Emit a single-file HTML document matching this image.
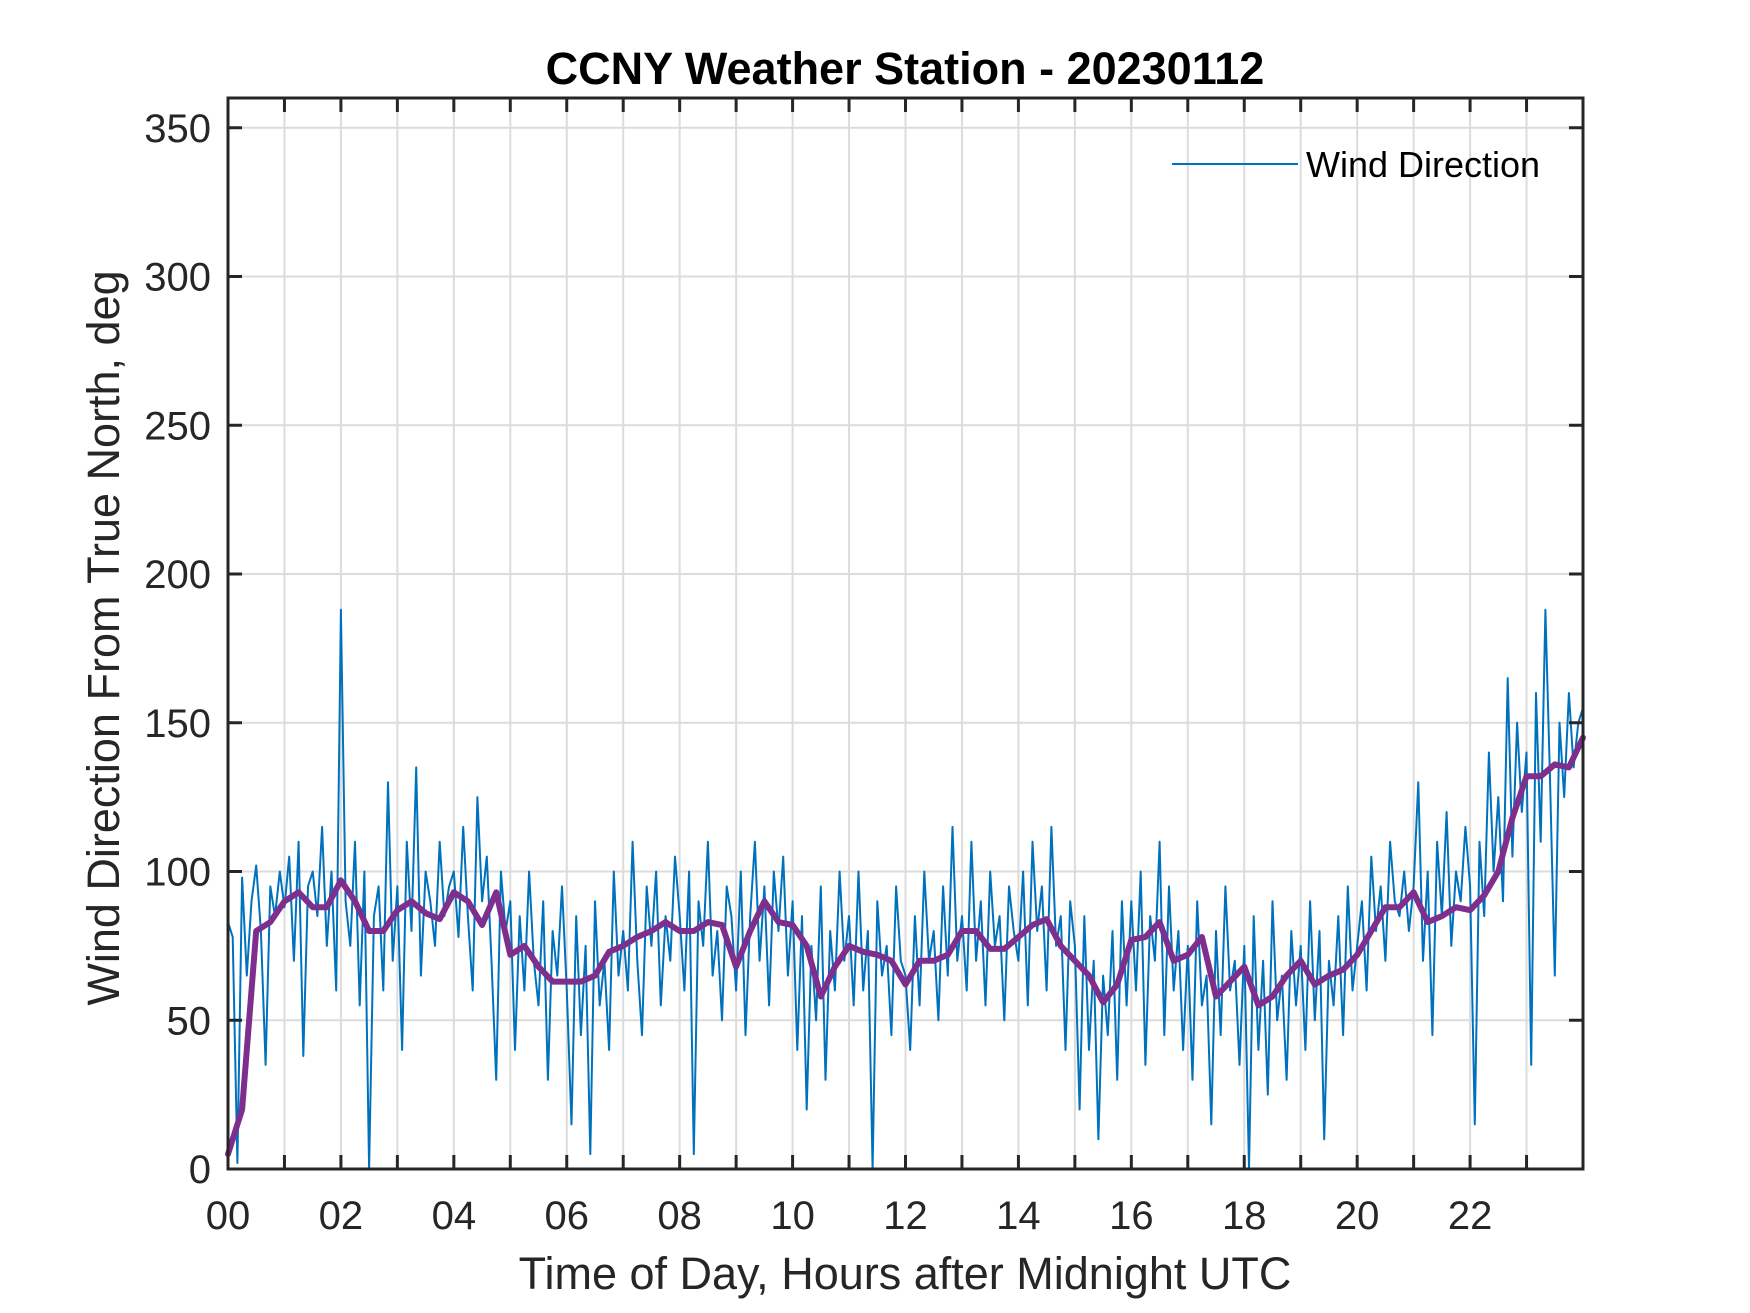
<!DOCTYPE html>
<html><head><meta charset="utf-8"><style>
html,body{margin:0;padding:0;background:#fff;}
svg{display:block;font-family:"Liberation Sans",Arial,sans-serif;}
</style></head><body>
<svg id="chart" width="1750" height="1313" viewBox="0 0 1750 1313" xmlns="http://www.w3.org/2000/svg">
<rect width="1750" height="1313" fill="#fff"/>
<g id="grid"></g>
<g id="series"></g>
<g id="axes"></g>
<text x="905" y="84" text-anchor="middle" font-size="45" font-weight="bold" fill="#000">CCNY Weather Station - 20230112</text>
<text x="905" y="1289" text-anchor="middle" font-size="45" fill="#262626">Time of Day, Hours after Midnight UTC</text>
<text transform="translate(119,638) rotate(-90)" text-anchor="middle" font-size="45" fill="#262626">Wind Direction From True North, deg</text>
<g>
<line x1="1172" y1="164" x2="1298" y2="164" stroke="#0072BD" stroke-width="2"/>
<text x="1306" y="177" font-size="36" fill="#000">Wind Direction</text>
</g>
</svg>
<script>
const xTicks = [0,2,4,6,8,10,12,14,16,18,20,22];
const xTickLabels = ["00","02","04","06","08","10","12","14","16","18","20","22"];
const yTicks = [0,50,100,150,200,250,300,350];
const rawPerHour = 12;
const rawValues = [
83,78,2,98,65,90,102,80,35,95,85,100,
88,105,70,110,38,95,100,85,115,75,100,60,
188,90,75,110,55,100,0,85,95,60,130,70,
95,40,110,80,135,65,100,90,75,110,85,95,
100,78,115,85,60,125,90,105,70,30,100,80,
90,40,85,60,100,70,55,90,30,80,65,95,
60,15,85,45,75,5,90,55,70,40,100,65,
80,60,110,70,45,95,75,100,55,85,70,105,
85,60,100,5,90,75,110,65,80,50,95,85,
60,100,45,85,110,70,95,55,100,80,105,65,
90,40,85,20,75,50,95,30,80,60,100,70,
85,55,100,60,80,0,90,65,75,45,95,70,
65,40,85,55,100,70,80,50,95,65,115,70,
85,60,110,70,90,55,100,75,85,50,95,80,
70,100,55,110,80,95,60,115,75,85,40,90,
75,20,85,40,70,10,65,45,80,30,90,55,
90,60,100,35,85,70,110,45,95,60,80,40,
75,30,90,55,65,15,80,45,95,60,70,35,
75,0,85,40,70,25,90,50,65,30,80,55,
75,40,90,50,80,10,70,55,85,45,95,60,
75,90,60,105,80,95,70,110,90,85,100,80,
95,130,70,100,45,110,85,120,75,100,90,115,
95,15,110,85,140,100,125,90,165,105,150,120,
140,35,160,110,188,130,65,150,125,160,135,150,
155];
const smoothPerHour = 4;
const smoothValues = [5,20,80,83,90,93,88,88,97,90,80,80,87,90,86,84,93,90,82,93,72,75,68,63,63,63,65,73,75,78,80,83,80,80,83,82,68,80,90,83,82,75,58,68,75,73,72,70,62,70,70,72,80,80,74,74,78,82,84,75,70,65,56,62,77,78,83,70,72,78,58,63,68,55,58,65,70,62,65,67,72,80,88,88,93,83,85,88,87,92,100,118,132,132,136,135,145];

const L=228,R=1583,T=98,B=1169,XMAX=24,YMAX=360;
const sx=v=>L+(v/XMAX)*(R-L);
const sy=v=>B-(v/YMAX)*(B-T);
const NS="http://www.w3.org/2000/svg";
function mk(tag,parent,attrs){const e=document.createElementNS(NS,tag);for(const k in attrs)e.setAttribute(k,attrs[k]);parent.appendChild(e);return e;}
const grid=document.getElementById('grid'),axes=document.getElementById('axes'),series=document.getElementById('series');
for(let h=1;h<XMAX;h++){
  const g=mk('line',grid,{x1:sx(h),x2:sx(h),y1:T,y2:B,stroke:'#dcdcdc','stroke-width':2});
  
  
  const t1=mk('line',axes,{x1:sx(h),x2:sx(h),y1:B,y2:B-14,stroke:'#262626','stroke-width':3});
  
  
  const t2=mk('line',axes,{x1:sx(h),x2:sx(h),y1:T,y2:T+14,stroke:'#262626','stroke-width':3});
  
  
}
yTicks.forEach(v=>{
  if(v>0){const g=mk('line',grid,{x1:L,x2:R,y1:sy(v),y2:sy(v),stroke:'#dcdcdc','stroke-width':2});
  
  }
  const t1=mk('line',axes,{x1:L,x2:L+14,y1:sy(v),y2:sy(v),stroke:'#262626','stroke-width':3});
  
  
  const t2=mk('line',axes,{x1:R,x2:R-14,y1:sy(v),y2:sy(v),stroke:'#262626','stroke-width':3});
  
  
  const lb=mk('text',axes,{x:211,y:sy(v)+14,'text-anchor':'end','font-size':40,fill:'#262626'});
  lb.textContent=v;
  
  
});
xTicks.forEach((v,i)=>{
  const lb=mk('text',axes,{x:sx(v),y:1229,'text-anchor':'middle','font-size':40,fill:'#262626'});
  lb.textContent=xTickLabels[i];
  
  
});
const rawPts=rawValues.map((v,i)=>sx(i/rawPerHour).toFixed(1)+','+sy(v).toFixed(1)).join(' ');
const raw=mk('polyline',series,{points:rawPts,fill:'none',stroke:'#0072BD','stroke-width':2,'stroke-linejoin':'round'});


const smPts=smoothValues.map((v,i)=>sx(i/smoothPerHour).toFixed(1)+','+sy(v).toFixed(1)).join(' ');
const sm=mk('polyline',series,{points:smPts,fill:'none',stroke:'#7E2F8E','stroke-width':6,'stroke-linejoin':'round','stroke-linecap':'round'});


const box=mk('rect',axes,{x:L,y:T,width:R-L,height:B-T,fill:'none',stroke:'#262626','stroke-width':3});


</script>
</body></html>
